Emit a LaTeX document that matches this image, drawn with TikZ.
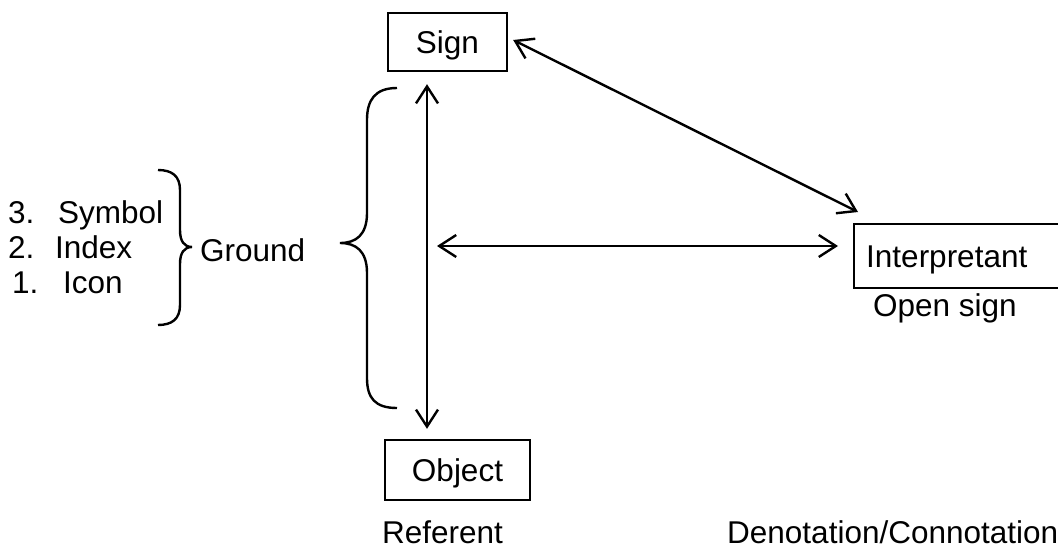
\documentclass[tikz,border=0pt]{standalone}
\usepackage{fontspec}
\setmainfont{Liberation Sans}
\usetikzlibrary{arrows.meta,calc}
\begin{document}
\begin{tikzpicture}[x=1pt,y=-1pt,
  every node/.style={font=\fontsize{31.5}{38}\selectfont},
  box/.style={draw,line width=2.4pt,inner sep=0pt,text height=22.5pt,text depth=0pt},
  lbl/.style={anchor=base west,inner sep=0pt},
  conn/.style={line width=2.4pt,{Straight Barb[length=17pt,width=22pt]}-{Straight Barb[length=17pt,width=22pt]}},
  brace/.style={line width=2.4pt}]
\useasboundingbox (0,0) rectangle (1058,549);
\fill[white] (0,0) rectangle (1058,549);
\clip (0,0) rectangle (1058,549);
% boxes
\node[box,minimum width=119pt,minimum height=58pt] (sign) at (447.5,42) {Sign};
\node[box,minimum width=145pt,minimum height=60pt] (obj) at (457.5,470) {Object};
\node[box,anchor=west,minimum height=64pt,text width=190pt,align=left,inner xsep=12pt] (interp) at (853,256) {Interpretant};
% labels
\node[lbl] (opensign) at (873,316) {Open sign};
\node[lbl] (referent) at (382,543) {Referent};
\node[lbl] (denot) at (727,543) {Denotation/Connotation};
\node[lbl] (ground) at (200,261) {Ground};
\node[lbl] (n3) at (8,223) {3.};
\node[lbl] (symbol) at (58,223) {Symbol};
\node[lbl] (n2) at (8,258) {2.};
\node[lbl] (index) at (55,258) {Index};
\node[lbl] (n1) at (12,293) {1.};
\node[lbl] (icon) at (63,293) {Icon};
% connectors
\draw[conn] ($(sign.south)+(-20.5,12)$) -- ($(obj.north)+(-30.5,-10)$);
\draw[conn] ($(sign.east)+(5,-2)$) -- ($(interp.west)+(5,-44)$);
\coordinate (hstart) at (437,246);
\draw[conn] (hstart) -- ($(interp.west)+(-15,-10)$);
% braces
\draw[brace] (397,88) .. controls (375,88) and (367,100) .. (367,120) -- (367,213)
  .. controls (367,235) and (356,243) .. (340,243)
  .. controls (356,243) and (367,251) .. (367,273) -- (367,378)
  .. controls (367,398) and (375,408) .. (397,408);
\draw[brace] (158,170) .. controls (172,170) and (180,176) .. (180,190) -- (180,230)
  .. controls (180,241) and (184,247) .. (192,247)
  .. controls (184,247) and (180,253) .. (180,264) -- (180,305)
  .. controls (180,319) and (172,325) .. (158,325);
\end{tikzpicture}
\end{document}
